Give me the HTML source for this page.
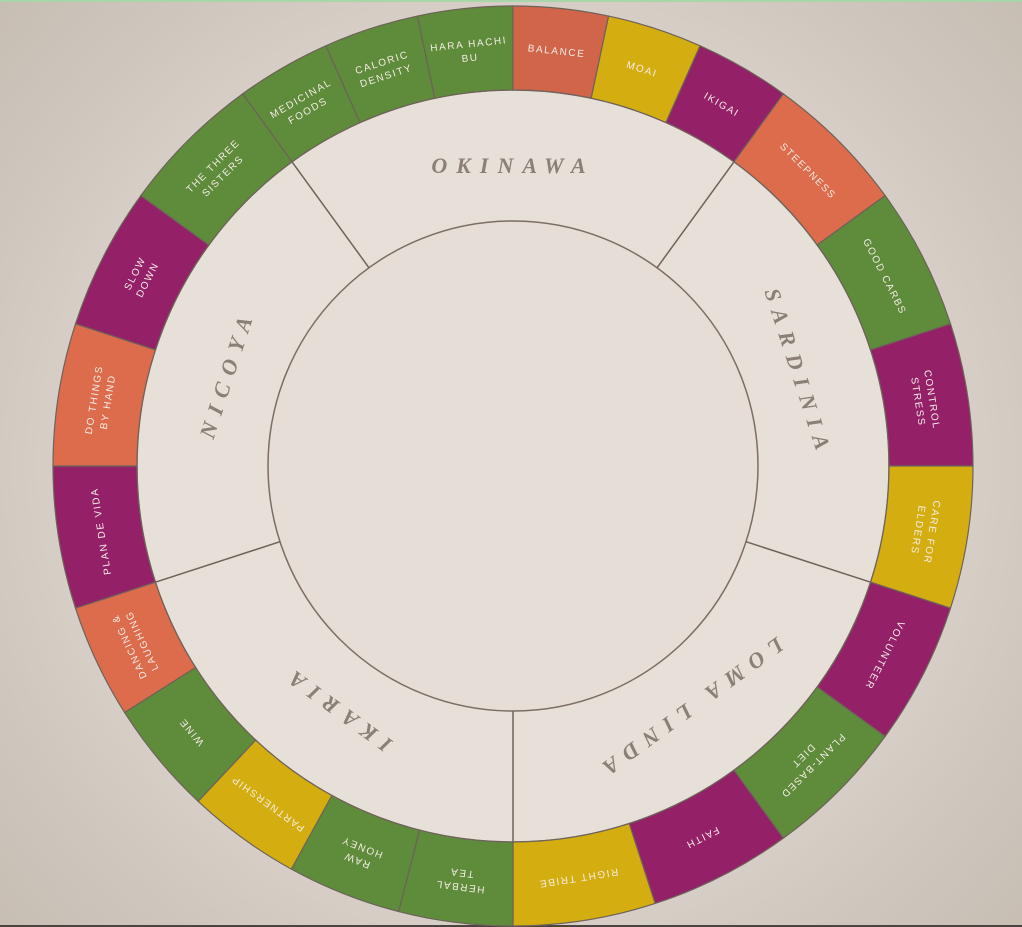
<!DOCTYPE html>
<html><head><meta charset="utf-8"><style>
html,body{margin:0;padding:0;width:1022px;height:927px;overflow:hidden;}
body{background:radial-gradient(circle at 513px 466px,#e8e2db 0%,#e2dbd3 45%,#cfc7be 80%,#c6bdb3 100%);}
svg{display:block}
.seg text{font-family:"Liberation Sans",sans-serif;font-size:10px;letter-spacing:1.6px;fill:#f4ece6;text-anchor:middle;}
.reg{font-family:"Liberation Serif",serif;font-style:italic;font-weight:bold;font-size:22px;letter-spacing:9px;fill:#8a8078;text-anchor:middle;}
</style></head><body>
<svg id="s" width="1022" height="927" xmlns="http://www.w3.org/2000/svg">
<rect x="0" y="0" width="1022" height="2" fill="#a9d6a9"/>
<rect x="0" y="925" width="1022" height="2" fill="#4a4440"/>
<circle cx="513" cy="466" r="376" fill="#e7e0d8" stroke="#7a6e66" stroke-width="1.5"/>
<g id="segs" class="seg"></g>
<circle cx="513" cy="466" r="245" fill="#e6ded6" stroke="#7a6e66" stroke-width="1.5"/>
<g id="lines" stroke="#6e625a" stroke-width="1.5"></g>
<g id="regs"></g>
</svg>
<script>
var cx=513,cy=466,R=460,r=376;
var G="#5e8c3a",M="#942068",O="#dc6c4c",Y="#d4ae10";
var segs=[
[324,12,G,["MEDICINAL","FOODS"]],[336,12,G,["CALORIC","DENSITY"]],[348,12,G,["HARA HACHI","BU"]],
[0,12,"#d0654a",["BALANCE"]],[12,12,Y,["MOAI"]],[24,12,M,["IKIGAI"]],
[36,18,O,["STEEPNESS"]],[54,18,G,["GOOD CARBS"]],[72,18,M,["CONTROL","STRESS"]],[90,18,Y,["CARE FOR","ELDERS"]],
[108,18,M,["VOLUNTEER"]],[126,18,G,["PLANT-BASED","DIET"]],[144,18,M,["FAITH"]],[162,18,Y,["RIGHT TRIBE"]],
[180,14.4,G,["HERBAL","TEA"]],[194.4,14.4,G,["RAW","HONEY"]],[208.8,14.4,Y,["PARTNERSHIP"]],[223.2,14.4,G,["WINE"]],[237.6,14.4,O,["DANCING &","LAUGHING"]],
[252,18,M,["PLAN DE VIDA"]],[270,18,O,["DO THINGS","BY HAND"]],[288,18,M,["SLOW","DOWN"]],[306,18,G,["THE THREE","SISTERS"]]
];
function pt(a,rad){a=a*Math.PI/180;return [cx+rad*Math.sin(a),cy-rad*Math.cos(a)];}
var h="";
segs.forEach(function(s){
 var a0=s[0],a1=s[0]+s[1];
 var p1=pt(a0,R),p2=pt(a1,R),p3=pt(a1,r),p4=pt(a0,r);
 h+='<path d="M'+p1+' A'+R+' '+R+' 0 0 1 '+p2+' L'+p3+' A'+r+' '+r+' 0 0 0 '+p4+'Z" fill="'+s[2]+'" stroke="#6e625a" stroke-width="1.2"/>';
 var mid=a0+s[1]/2,t='<text transform="rotate('+mid+' '+cx+' '+cy+')">';
 if(s[3].length==1){t+='<tspan x="'+cx+'" y="'+(cy-418+4)+'">'+s[3][0].replace("&","&amp;")+'</tspan>';}
 else{t+='<tspan x="'+cx+'" y="'+(cy-418-3)+'">'+s[3][0].replace("&","&amp;")+'</tspan><tspan x="'+cx+'" y="'+(cy-418+11)+'">'+s[3][1]+'</tspan>';}
 h+=t+'</text>';
});
document.getElementById("segs").innerHTML=h;
var l="";
[324,36,108,180,252].forEach(function(a){var p=pt(a,376),q=pt(a,245);l+='<line x1="'+p[0]+'" y1="'+p[1]+'" x2="'+q[0]+'" y2="'+q[1]+'"/>';});
document.getElementById("lines").innerHTML=l;
var g="";
[["OKINAWA",0],["SARDINIA",72],["LOMA LINDA",144],["IKARIA",216],["NICOYA",288]].forEach(function(x){
 g+='<text class="reg" transform="rotate('+x[1]+' '+cx+' '+cy+')" x="'+cx+'" y="'+(cy-301+8)+'">'+x[0]+'</text>';});
document.getElementById("regs").innerHTML=g;
</script>
</body></html>
